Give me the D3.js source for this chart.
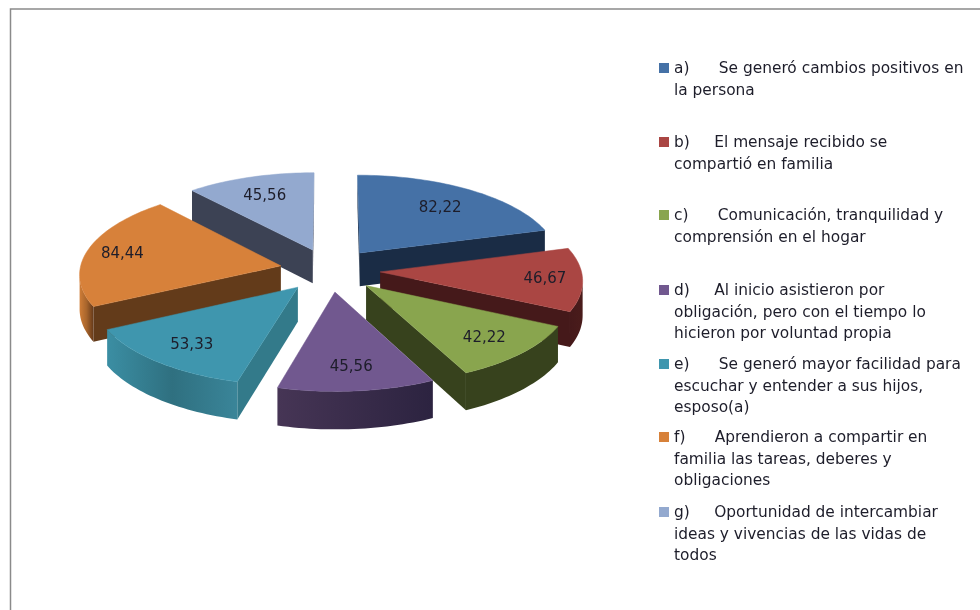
<!DOCTYPE html>
<html lang="en">
<head>
    <meta charset="UTF-8">
    <title>Index</title>
    <script src="https://d3js.org/d3.v7.min.js" charset="utf-8"></script>
    <style>
        html, body { margin: 0; padding: 0; background: #fff; }
        svg { display: block; font-family: 'DejaVu Sans', sans-serif; filter: blur(0.4px); }
        text { white-space: pre; fill: #1d1d2a; }
    </style>
</head>
<body>
    <div id="chart"></div>
    <script>
        // values
        const values = [82.22, 46.67, 42.22, 45.56, 53.33, 84.44, 45.56];
        const valueLabels = ["82,22", "46,67", "42,22", "45,56", "53,33", "84,44", "45,56"];
        const legendLines = [
            ["a)      Se generó cambios positivos en", "la persona"],
            ["b)     El mensaje recibido se", "compartió en familia"],
            ["c)      Comunicación, tranquilidad y", "comprensión en el hogar"],
            ["d)     Al inicio asistieron por", "obligación, pero con el tiempo lo", "hicieron por voluntad propia"],
            ["e)      Se generó mayor facilidad para", "escuchar y entender a sus hijos,", "esposo(a)"],
            ["f)      Aprendieron a compartir en", "familia las tareas, deberes y", "obligaciones"],
            ["g)     Oportunidad de intercambiar", "ideas y vivencias de las vidas de", "todos"]
        ];
        const topColors = ["#4571a6", "#aa4643", "#89a54e", "#71588f", "#3f96ae", "#d7813a", "#93a9cf"];
        const cutColors = ["#1a2c45", "#45191a", "#37421d", "#2f2540", "#337a8a", "#633b1a", "#3c4254"];
        // colours along the visible rim of each slice, from first to last angle
        const rimColors = [
            ["#1a2c45", "#1a2c45"],
            ["#4a1c1b", "#45191a"],
            ["#37421d", "#37421d"],
            ["#2c2340", "#463555"],
            ["#3a8599", "#2f7080", "#3b8ea3"],
            ["#64391a", "#a8652c", "#cf7d37"],
            ["#3c4254", "#3c4254"]
        ];
        const legendTop = [68, 142, 215, 290, 364, 437, 512];
        const labelRadii = [0.72, 0.815, 0.77, 0.76, 0.77, 0.82, 0.75];

        const width = 980, height = 610;
        const cx = 330, cy = 270;
        const radiusX = 201, radiusY = 87;
        const perspective = 0.084, depth = 34, explode = 0.25;

        const svg = d3.select("#chart").append("svg")
            .attr("width", width)
            .attr("height", height);

        const defs = svg.append("defs");

        // frame of the pasted picture
        svg.append("path")
            .attr("d", d3.line()([[10.5, height], [10.5, 9], [width, 9]]))
            .attr("fill", "none")
            .attr("stroke", "#8a8a8a")
            .attr("stroke-width", 1.5);

        // ground plane point (u right, v back) to the screen, z is down from the top face
        function project(u, v, z) {
            const s = 1 / (1 + perspective * v);
            return [cx + radiusX * u * s, cy - radiusY * v * s + z * depth * s];
        }

        const slices = d3.pie().sort(null)(values).map(function(d, i) {
            const mid = (d.startAngle + d.endAngle) / 2;
            return {
                i: i,
                start: d.startAngle,
                end: d.endAngle,
                mid: mid,
                ox: explode * Math.sin(mid),
                oy: explode * Math.cos(mid)
            };
        });

        const line = d3.line();
        const g = svg.append("g");

        function rimPoints(d) {
            const n = Math.max(8, Math.round((d.end - d.start) * 40));
            return d3.range(n + 1).map(function(k) {
                const a = d.start + (d.end - d.start) * k / n;
                return [d.ox + Math.sin(a), d.oy + Math.cos(a)];
            });
        }

        // only faces turned to the viewer are drawn: going clockwise they run leftwards
        function facesViewer(p, q) {
            return project(q[0], q[1], 0)[0] < project(p[0], p[1], 0)[0];
        }

        function drawWall(pts, fill, parent) {
            const top = pts.map(function(p) { return project(p[0], p[1], 0); });
            const bottom = pts.map(function(p) { return project(p[0], p[1], 1); }).reverse();
            parent.append("path")
                .attr("d", line(top.concat(bottom)) + "Z")
                .attr("fill", fill)
                .attr("stroke", "none");
        }

        // back slices first
        slices.slice().sort(function(a, b) { return b.oy - a.oy; }).forEach(function(d) {
            const slice = g.append("g");
            const rim = rimPoints(d);
            const apex = [d.ox, d.oy];

            if (facesViewer(apex, rim[0])) drawWall([apex, rim[0]], cutColors[d.i], slice);
            if (facesViewer(rim[rim.length - 1], apex)) drawWall([rim[rim.length - 1], apex], cutColors[d.i], slice);

            // the part of the rim that shows, one path with a gradient across it
            const shown = rim.filter(function(p, k) {
                return k < rim.length - 1 ? facesViewer(p, rim[k + 1]) : facesViewer(rim[k - 1], p);
            });
            if (shown.length > 1) {
                const first = project(shown[0][0], shown[0][1], 0);
                const last = project(shown[shown.length - 1][0], shown[shown.length - 1][1], 0);
                const grad = defs.append("linearGradient")
                    .attr("id", "rim" + d.i)
                    .attr("gradientUnits", "userSpaceOnUse")
                    .attr("x1", first[0]).attr("y1", 0)
                    .attr("x2", last[0]).attr("y2", 0);
                grad.selectAll("stop")
                    .data(rimColors[d.i])
                    .join("stop")
                    .attr("offset", function(c, k) { return k / (rimColors[d.i].length - 1); })
                    .attr("stop-color", function(c) { return c; });
                drawWall(shown, "url(#rim" + d.i + ")", slice);
            }

            const face = [apex].concat(rim).map(function(p) { return project(p[0], p[1], 0); });
            slice.append("path")
                .attr("d", line(face) + "Z")
                .attr("fill", topColors[d.i])
                .attr("stroke", topColors[d.i])
                .attr("stroke-width", 0.5);
        });

        // value labels
        function labelPoint(d) {
            const r = labelRadii[d.i];
            return project(d.ox + r * Math.sin(d.mid), d.oy + r * Math.cos(d.mid), 0);
        }

        svg.append("g").selectAll("text")
            .data(slices)
            .join("text")
            .attr("x", function(d) { return labelPoint(d)[0]; })
            .attr("y", function(d) { return labelPoint(d)[1]; })
            .attr("dy", "0.35em")
            .attr("text-anchor", "middle")
            .attr("font-size", 15)
            .text(function(d) { return valueLabels[d.i]; });

        // legend
        const legend = svg.append("g").selectAll("g")
            .data(legendLines)
            .join("g")
            .attr("transform", function(d, i) { return "translate(0," + legendTop[i] + ")"; });

        legend.append("rect")
            .attr("x", 659)
            .attr("y", -5)
            .attr("width", 10)
            .attr("height", 10)
            .attr("fill", function(d, i) { return topColors[i]; });

        legend.selectAll("text")
            .data(function(d) { return d; })
            .join("text")
            .attr("x", 674)
            .attr("y", function(d, i) { return i * 21.5; })
            .attr("dy", "0.35em")
            .attr("font-size", 15.4)
            .text(function(d) { return d; });
    </script>
</body>
</html>
